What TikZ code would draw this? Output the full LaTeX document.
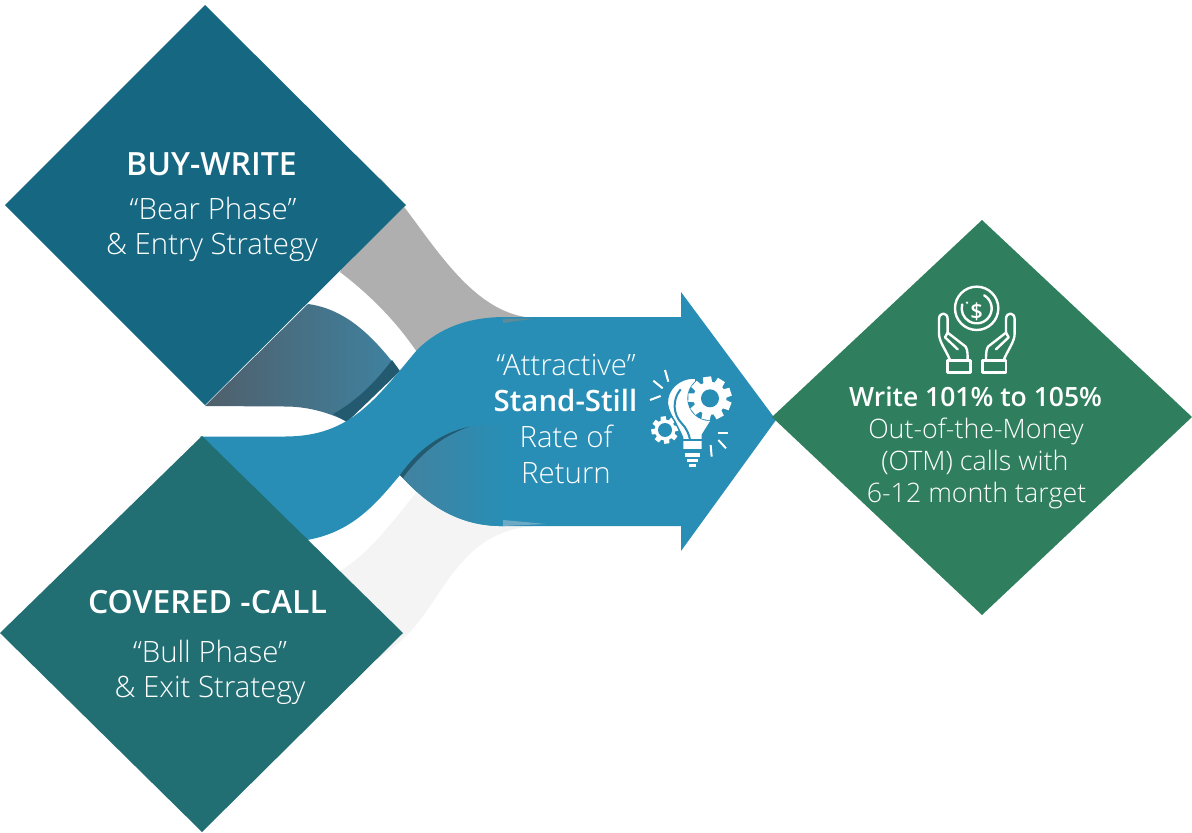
\documentclass[tikz,border=0pt]{standalone}
\usepackage{fontspec}
\setmainfont{Open Sans}
\newfontfamily\lightf{Open Sans Light}
\newfontfamily\semif{Open Sans Semibold}
\usetikzlibrary{calc}
\definecolor{dtop}{HTML}{166882}
\definecolor{dbot}{HTML}{216E73}
\definecolor{dright}{HTML}{2F7F5F}
\definecolor{arrowc}{HTML}{288EB5}
\definecolor{grayb}{HTML}{AFAFAF}
\definecolor{lightb}{HTML}{F4F4F4}
\definecolor{sliver}{HTML}{245A70}
\definecolor{gradA}{RGB}{80,95,107}
\definecolor{gradB}{RGB}{62,130,160}
\definecolor{gradC}{RGB}{66,130,160}
\definecolor{tipA}{RGB}{95,138,154}
\definecolor{tipB}{RGB}{110,170,197}
\tikzset{
  x=1pt,y=-1pt,
  title/.style={anchor=base,text=white,inner sep=0pt,font=\semif\fontsize{32}{32}\selectfont},
  body/.style={anchor=base,text=white,inner sep=0pt,font=\lightf\fontsize{29.4}{30}\selectfont},
  stitle/.style={anchor=base,text=white,inner sep=0pt,font=\semif\fontsize{29.4}{30}\selectfont},
  rtitle/.style={anchor=base,text=white,inner sep=0pt,font=\semif\fontsize{26.5}{27}\selectfont},
  rbody/.style={anchor=base,text=white,inner sep=0pt,font=\lightf\fontsize{26.8}{27}\selectfont},
  iconline/.style={draw=white,line width=2.4pt,line cap=round,line join=round,fill=none},
  ray/.style={draw=white,line width=2pt,line cap=butt},
  cutline/.style={draw=arrowc,line width=2pt},
}
\newcommand{\gearat}[5]{% x,y,outer r,hole r,teeth
  \fill[white] (#1,#2) circle[radius=#3*0.76];
  \foreach \a in {1,...,#5}{
    \fill[white,shift={(#1,#2)},rotate=\a*360/#5+8]
      (-#3*0.24,0) -- (-#3*0.19,-#3) -- (#3*0.19,-#3) -- (#3*0.24,0) -- cycle;
  }
  \fill[arrowc] (#1,#2) circle[radius=#4];
}
\begin{document}
\begin{tikzpicture}
\useasboundingbox (0,0) rectangle (1192,833);
\fill[white] (0,0) rectangle (1192,833);

% grey ribbon
\fill[grayb] (380,178) .. controls (425,225) and (465,315) .. (535,318)
  -- (500,340) -- (417,352) .. controls (395,320) and (370,295) .. (340,272) -- cycle;
% upper shaded ribbon
\shade[left color=gradA,right color=gradB]
  (205,406) -- (308,304) .. controls (345,309) and (372,335) .. (398,369)
  -- (346,421) .. controls (325,411) and (305,406.5) .. (285,406.5) -- cycle;
\fill[sliver] (392,360) -- (400,371) -- (347,422) -- (333,414)
  .. controls (355,402) and (375,383) .. (392,360) -- cycle;
% light ribbon
\fill[lightb] (340,571) .. controls (370,553) and (392,522) .. (416,493) -- (500,520) -- (535,526)
  .. controls (470,530) and (450,580) .. (420,620)
  .. controls (405,640) and (385,655) .. (365,667) -- (300,620) -- cycle;

% main arrow
\fill[arrowc] (200,436.5) -- (285,436.5) .. controls (350,436.5) and (375,400) .. (417,350)
  .. controls (440,327) and (470,317) .. (505,317) -- (681,317) -- (681,292) -- (776,420) -- (681,551)
  -- (681,526) -- (505,526) .. controls (465,527) and (432,510) .. (400,475)
  .. controls (375,505) and (350,535) .. (300,541) -- cycle;
% inner fold of the arrow
\fill[sliver] (400,475) .. controls (418,450) and (440,433) .. (470,426.5)
  .. controls (440,438) and (420,455) .. (404,479) -- cycle;
\shade[left color=gradC,right color=arrowc]
  (403,478) .. controls (420,455) and (440,437) .. (470,426.5)
  -- (505,424) -- (505,526) .. controls (465,527) and (432,510) .. (403,478) -- cycle;
\fill[tipA] (503,323) -- (503,318.5) -- (535,318.5) -- cycle;
\fill[tipB] (503,520) -- (546,524) -- (503,526) -- cycle;

% diamonds
\fill[dtop] (205,5) -- (406,205) -- (205,405) -- (5,205) -- cycle;
\fill[dbot] (202,436) -- (403,633) -- (202,832) -- (0,633) -- cycle;
\fill[dright] (982,220) -- (1192,417) -- (982,615) -- (772,417) -- cycle;

% texts
\node[title] (bw) at (211.5,175) {BUY-WRITE};
\node[body] (bw1) at (213,219) {“Bear Phase”};
\node[body] (bw2) at (212,254) {\& Entry Strategy};
\node[title] (cc) at (207.5,613) {COVERED -CALL};
\node[body] (cc1) at (210,662) {“Bull Phase”};
\node[body] (cc2) at (210,697) {\& Exit Strategy};
\node[body] (a1) at (566,375) {“Attractive”};
\node[stitle] (a2) at (565.5,411) {Stand-Still};
\node[body] (a3) at (566,447) {Rate of};
\node[body] (a4) at (566,483) {Return};
\node[rtitle] (w1) at (975.5,406) {Write 101\% to 105\%};
\node[rbody] (w2) at (976,438) {Out-of-the-Money};
\node[rbody] (w3) at (975,470) {(OTM) calls with};
\node[rbody] (w4) at (976.5,502) {6-12 month target};

% bulb and gears icon
\begin{scope}[shift={(640,360)},scale=0.3333]
  \draw[ray] (75,30) -- (85,65);
  \draw[ray] (40,62) -- (68,85);
  \draw[ray] (30,120) -- (62,108);
  \draw[ray] (235,218) -- (265,218);
  \draw[ray] (235,240) -- (258,265);
  \draw[ray] (212,255) -- (215,290);
  \fill[white] (135,280) rectangle (180,290);
  \fill[white] (140,297) rectangle (175,307);
  \fill[white] (148,313) rectangle (167,320);
  % small gear lies behind the bulb
  \gearat{75}{210}{41}{21}{8}
  % bulb
  \filldraw[fill=white,draw=arrowc,line width=1.5pt] (168,54) .. controls (115,52) and (80,90) .. (82,130) .. controls (84,150) and (95,170) .. (105,185)
     -- (128,232) -- (128,270) -- (187,270) -- (187,225) -- (215,180) -- (165,120) -- cycle;
  \draw[cutline] (122,88) .. controls (95,120) and (100,165) .. (125,190)
    .. controls (140,205) and (148,225) .. (150,240);
  \draw[cutline] (128,240) -- (187,240);
  % large gear
  \fill[arrowc] (210,115) circle[radius=68];
  \gearat{210}{115}{65}{27}{9}
\end{scope}

% hands and coin icon
\begin{scope}[shift={(925,280)},scale=0.3333]
  \draw[iconline] (155,85) circle[radius=65];
  \draw[iconline] (155,85) ++(-60:45) arc[start angle=-60,end angle=195,radius=45];
  \fill[white] (126,68) circle[radius=4];
  \draw[iconline] (68,242) rectangle (137,278);
  \draw[iconline] (173,242) rectangle (243,278);
  \draw[iconline] (75,240) .. controls (60,205) and (42,185) .. (42,160) -- (42,118)
    .. controls (42,95) and (68,95) .. (68,118) -- (68,158)
    -- (122,200) .. controls (128,210) and (128,225) .. (128,240);
  \draw[iconline] (68,158) -- (60,172) -- (98,208);
  \draw[iconline] (236,240) .. controls (251,205) and (269,185) .. (269,160) -- (269,118)
    .. controls (269,95) and (243,95) .. (243,118) -- (243,158)
    -- (189,200) .. controls (183,210) and (183,225) .. (183,240);
  \draw[iconline] (243,158) -- (251,172) -- (213,208);
\end{scope}
\node[text=white,inner sep=0pt,font=\semif\fontsize{22}{22}\selectfont] (dollar) at (976.7,312) {\$};
\end{tikzpicture}
\end{document}
